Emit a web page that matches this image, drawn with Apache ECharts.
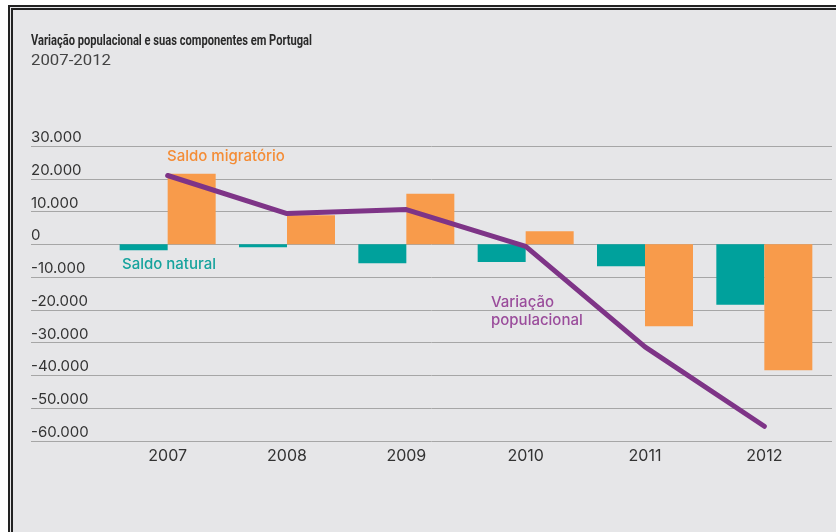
<!DOCTYPE html>
<html>
<head>
<meta charset="utf-8">
<script src="https://cdn.jsdelivr.net/npm/echarts@6/dist/echarts.min.js"></script>
<style>
  body { margin: 0; background: #fff; }
  .frame {
    position: absolute; left: 8px; top: 5px; width: 900px; height: 600px;
    background: #e6e6e8;
    border-left: 5px double #222; border-top: 5px double #222;
  }
  #chart { position: absolute; left: 0; top: 0; width: 836px; height: 532px; }
</style>
</head>
<body>
<div class="frame"></div>
<div id="chart"></div>
<script>
var years = ['2007', '2008', '2009', '2010', '2011', '2012']
var saldoNatural = [-1800, -900, -5800, -5400, -6700, -18400]
var saldoMigratorio = [21500, 8900, 15400, 4000, -25000, -38400]
var variacaoPopulacional = [21000, 9400, 10600, -600, -31300, -55500]

var titleText = 'Variação populacional e suas componentes em Portugal'
var subText = '2007-2012'

var axisFont = 'Inter, "Noto Sans", sans-serif'
var titleFont = '700 15px Roboto, sans-serif'
var subFont = '400 15px Roboto, sans-serif'

function fmt(v) {
  var s = String(Math.abs(v)).replace(/\B(?=(\d{3})+(?!\d))/g, '.')
  return (v < 0 ? '-' : '') + s
}

// the original title uses a condensed face, so squeeze the text to its width
function squeeze(text, font, target) {
  var ctx = document.createElement('canvas').getContext('2d')
  ctx.font = font
  return target / ctx.measureText(text).width
}

var chart = echarts.init(document.getElementById('chart'))
chart.setOption({
  backgroundColor: 'transparent',
  animation: false,
  grid: [
    { left: 31, right: 4, top: 146, bottom: 91 },
    { left: 108, right: 12, top: 146, bottom: 91 }
  ],
  xAxis: [
    { gridIndex: 0, type: 'category', data: [], show: false },
    {
      gridIndex: 1, type: 'category', data: years,
      axisLine: { show: false }, axisTick: { show: false },
      axisLabel: { color: '#333', fontSize: 16, margin: 7, fontFamily: axisFont }
    }
  ],
  yAxis: [
    {
      gridIndex: 0, type: 'value', min: -60000, max: 30000, interval: 10000,
      axisLine: { show: false }, axisTick: { show: false },
      splitLine: { lineStyle: { color: '#a6a6a6', width: 1 } },
      axisLabel: {
        inside: true, margin: 0, align: 'left', verticalAlign: 'bottom',
        padding: [0, 0, 1, 0], color: '#333', fontSize: 15, fontFamily: axisFont,
        formatter: fmt
      }
    },
    {
      gridIndex: 1, type: 'value', min: -60000, max: 30000, interval: 10000,
      show: false, splitLine: { show: false }
    }
  ],
  series: [
    {
      name: 'Saldo natural', type: 'bar', xAxisIndex: 1, yAxisIndex: 1,
      data: saldoNatural, barWidth: 48, barGap: 0,
      itemStyle: { color: '#00a19c' }
    },
    {
      name: 'Saldo migratório', type: 'bar', xAxisIndex: 1, yAxisIndex: 1,
      data: saldoMigratorio, barWidth: 48, barGap: 0,
      itemStyle: { color: '#f89b4b' }
    },
    {
      name: 'Variação populacional', type: 'line', xAxisIndex: 1, yAxisIndex: 1,
      data: variacaoPopulacional, symbol: 'none', z: 5,
      lineStyle: { color: '#7e3487', width: 5, cap: 'round', join: 'round' }
    }
  ],
  graphic: [
    {
      type: 'text', x: 31, y: 41, scaleX: squeeze(titleText, titleFont, 281),
      style: { text: titleText, fill: '#2a2a2a', font: titleFont, verticalAlign: 'middle' }
    },
    {
      type: 'text', x: 31, y: 61, scaleX: squeeze(subText, subFont, 80),
      style: { text: subText, fill: '#444', font: subFont, verticalAlign: 'middle' }
    },
    {
      type: 'text', left: 167, top: 149,
      style: { text: 'Saldo migratório', fill: '#f48c35', font: '500 15px ' + axisFont }
    },
    {
      type: 'text', left: 122, top: 257,
      style: { text: 'Saldo natural', fill: '#16a39d', font: '500 15px ' + axisFont }
    },
    {
      type: 'text', left: 491, top: 293,
      style: { text: 'Variação\npopulacional', fill: '#9a4c9b', font: '500 15px ' + axisFont, lineHeight: 18 }
    }
  ]
})
</script>
</body>
</html>
